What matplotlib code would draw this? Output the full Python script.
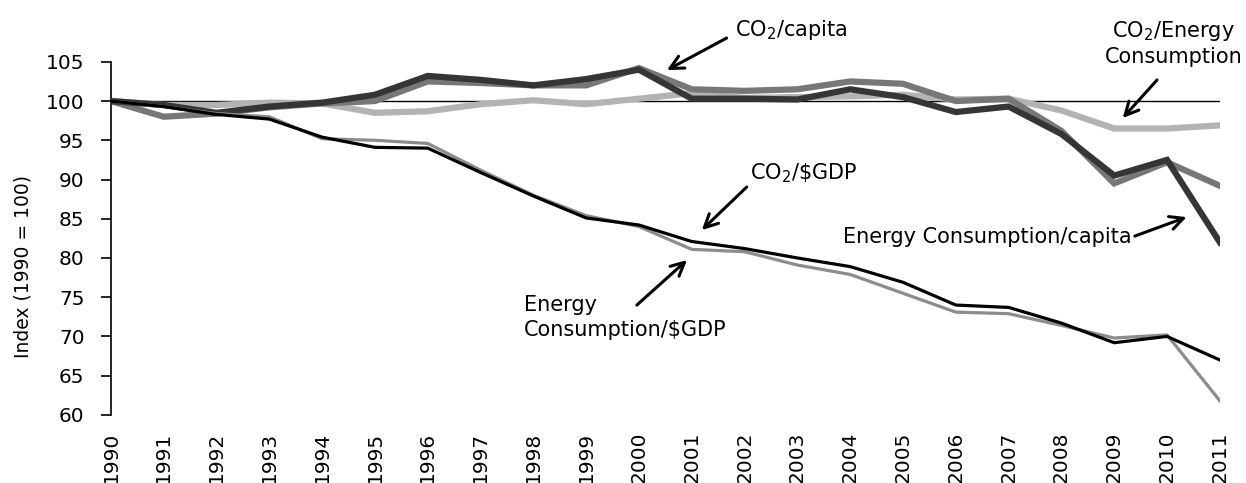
import numpy as np
import matplotlib

matplotlib.use("Agg")
import matplotlib.pyplot as plt

years = list(range(1990, 2012))

energy_per_capita = [100, 99.5, 98.5, 99.3, 99.8, 100.8, 103.2, 102.7, 102.0, 102.8, 104.0,
                     100.3, 100.3, 100.2, 101.5, 100.5, 98.6, 99.3, 95.8, 90.5, 92.5, 82.0]
co2_per_capita = [100, 98.0, 98.4, 99.2, 99.7, 100.0, 102.5, 102.3, 102.0, 102.0, 104.2,
                  101.5, 101.3, 101.5, 102.5, 102.2, 100.0, 100.3, 96.2, 89.5, 92.2, 89.2]
co2_per_energy = [100, 99.5, 99.5, 99.8, 99.7, 98.5, 98.7, 99.6, 100.1, 99.6, 100.3,
                  101.0, 100.4, 100.5, 100.6, 100.8, 100.2, 100.3, 98.8, 96.5, 96.5, 96.9]
co2_per_gdp = [100, 99.3, 98.3, 97.7, 95.4, 94.1, 94.0, 90.9, 87.9, 85.1, 84.2,
               82.1, 81.2, 80.0, 78.9, 76.9, 74.0, 73.7, 71.7, 69.2, 70.0, 67.0]
energy_per_gdp = [100, 99.3, 98.4, 98.0, 95.2, 95.0, 94.6, 91.2, 88.0, 85.4, 84.0,
                  81.1, 80.8, 79.1, 77.9, 75.5, 73.1, 72.9, 71.4, 69.8, 70.2, 61.8]

y_ticks = list(range(60, 106, 5))

plt.rcParams["font.family"] = "DejaVu Sans"

fig = plt.figure(figsize=(12.46, 4.83), dpi=100)
ax = fig.add_axes([0.089, 0.141, 0.890, 0.731])

# category axis crosses at 100
ax.axhline(100, color="black", linewidth=1.0, zorder=1)

ax.plot(years, co2_per_energy, color="#b3b3b3", linewidth=4.5, zorder=2, solid_joinstyle="miter")
ax.plot(years, co2_per_capita, color="#777777", linewidth=4.5, zorder=3, solid_joinstyle="miter")
ax.plot(years, energy_per_capita, color="#353535", linewidth=4.5, zorder=4, solid_joinstyle="miter")
ax.plot(years, energy_per_gdp, color="#8c8c8c", linewidth=2.3, zorder=5)
ax.plot(years, co2_per_gdp, color="black", linewidth=2.3, zorder=6)

ax.set_xlim(1990, 2011)
ax.set_ylim(60, 105)
ax.set_yticks(y_ticks)
ax.set_xticks(years)
ax.set_xticklabels([str(y) for y in years], rotation=90, fontsize=14.5)
ax.tick_params(axis="x", length=0, pad=12)
ax.tick_params(axis="y", labelsize=14.5, length=7, width=1.2, direction="out", pad=12)
ax.set_ylabel("Index (1990 = 100)", fontsize=13.5)
ax.yaxis.set_label_coords(-0.071, 0.42)

for side in ("top", "right", "bottom"):
    ax.spines[side].set_visible(False)
ax.spines["left"].set_linewidth(1.2)

arrow = dict(arrowstyle="->", color="black", lw=2.2, mutation_scale=24,
             shrinkA=0, shrinkB=0)
label_font = 15

# callout labels
ax.text(2001.82, 109.05, "CO$_2$/capita", fontsize=label_font, ha="left", va="center", clip_on=False)
ax.text(2010.13, 107.39, "CO$_2$/Energy\nConsumption", fontsize=label_font, ha="center",
        va="center", multialignment="center", linespacing=1.3, clip_on=False)
ax.text(2002.1, 90.82, "CO$_2$/\\$GDP", fontsize=label_font, ha="left", va="center")
ax.text(1997.82, 72.4, "Energy\nConsumption/\\$GDP", fontsize=label_font, ha="left",
        va="center", multialignment="left", linespacing=1.3)
ax.text(2003.86, 82.66, "Energy Consumption/capita", fontsize=label_font, ha="left", va="center")

# callout arrows (tail -> head)
arrows = [
    ((2001.66, 108.03), (2000.53, 103.95)),
    ((2009.81, 102.68), (2009.16, 97.83)),
    ((2002.04, 89.04), (2001.19, 83.55)),
    ((1999.96, 74.0), (2000.91, 79.73)),
    ((2009.39, 82.79), (2010.37, 85.21)),
]
for tail, head in arrows:
    ax.annotate("", xy=head, xytext=tail, arrowprops=arrow, annotation_clip=False)

fig.savefig("out.png", dpi=100)
